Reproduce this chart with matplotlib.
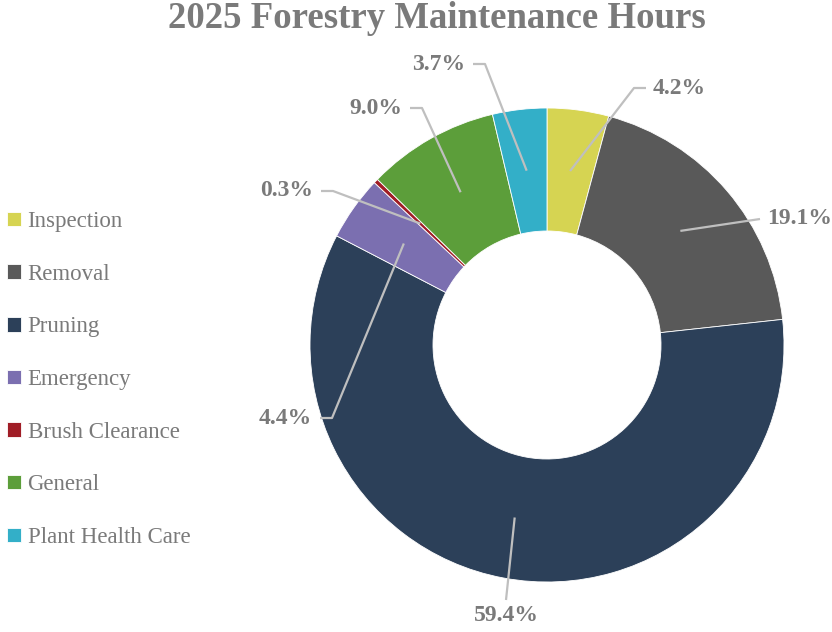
import numpy as np
import matplotlib
matplotlib.use('Agg')
import matplotlib.pyplot as plt

# data
categories = ['Inspection', 'Removal', 'Pruning', 'Emergency',
              'Brush Clearance', 'General', 'Plant Health Care']
shares = [4.2, 19.1, 59.4, 4.4, 0.3, 9.0, 3.7]
colors = ['#d6d452', '#595959', '#2c4059', '#7b6fb0',
          '#a01d26', '#5c9e3a', '#33afc8']

# label layout (pixel positions of the elbow, label side, horizontal tail)
elbows = [(634, 88), (760, 219), (506, 600), (332, 418),
          (333, 191), (422, 108), (485, 64)]
sides = ['right', 'right', 'below', 'left', 'left', 'left', 'left']
tails = [12, 0, 0, 12, 12, 12, 12]

W, H = 832, 632
fig = plt.figure(figsize=(W / 100, H / 100), dpi=100)
ax = fig.add_axes([0, 0, 1, 1])

serif = 'Liberation Serif'
grey = '#7a7a7a'

cx, cy = 547, H - 345
r_out, r_in = 237, 114
wedges, _ = ax.pie(shares, colors=colors, startangle=90, counterclock=False,
                   center=(cx, cy), radius=r_out,
                   wedgeprops=dict(width=r_out - r_in, edgecolor='white', linewidth=0.6))
ax.set_xlim(0, W)
ax.set_ylim(0, H)
ax.set_aspect('equal')
ax.axis('off')

# leader lines + labels
total = sum(shares)
cum = 0
r_mid = (r_out + r_in) / 2
for val, (ex, ey), side, tail in zip(shares, elbows, sides, tails):
    mid = 90 - (cum + val / 2) / total * 360
    cum += val
    sx = cx + r_mid * np.cos(np.radians(mid))
    sy = cy + r_mid * np.sin(np.radians(mid))
    ey = H - ey
    xs, ys = [sx, ex], [sy, ey]
    if side == 'right':
        xs.append(ex + tail); ys.append(ey)
        tx, ty, ha, va = ex + tail + 7, ey, 'left', 'center'
    elif side == 'left':
        xs.append(ex - tail); ys.append(ey)
        tx, ty, ha, va = ex - tail - 8, ey, 'right', 'center'
    else:
        tx, ty, ha, va = ex, ey - 5, 'center', 'top'
    ax.plot(xs, ys, color='#bfbfbf', lw=1.6, solid_capstyle='butt')
    ax.text(tx, ty, f'{val:.1f}%', ha=ha, va=va, fontsize=17,
            fontweight='bold', color=grey, family=serif)

ax.text(437, H - 19, '2025 Forestry Maintenance Hours', ha='center', va='center',
        fontsize=26.5, fontweight='bold', color=grey, family=serif)

leg = ax.legend(wedges, categories, loc='center left', bbox_to_anchor=(0.0, 0.5 - 63.5 / H),
                frameon=False, prop=dict(family=serif, size=16.5),
                labelcolor=grey, handlelength=0.6, handleheight=0.6,
                handletextpad=0.3, labelspacing=1.38, borderpad=0, borderaxespad=0.3)

fig.savefig('out.png', dpi=100)
